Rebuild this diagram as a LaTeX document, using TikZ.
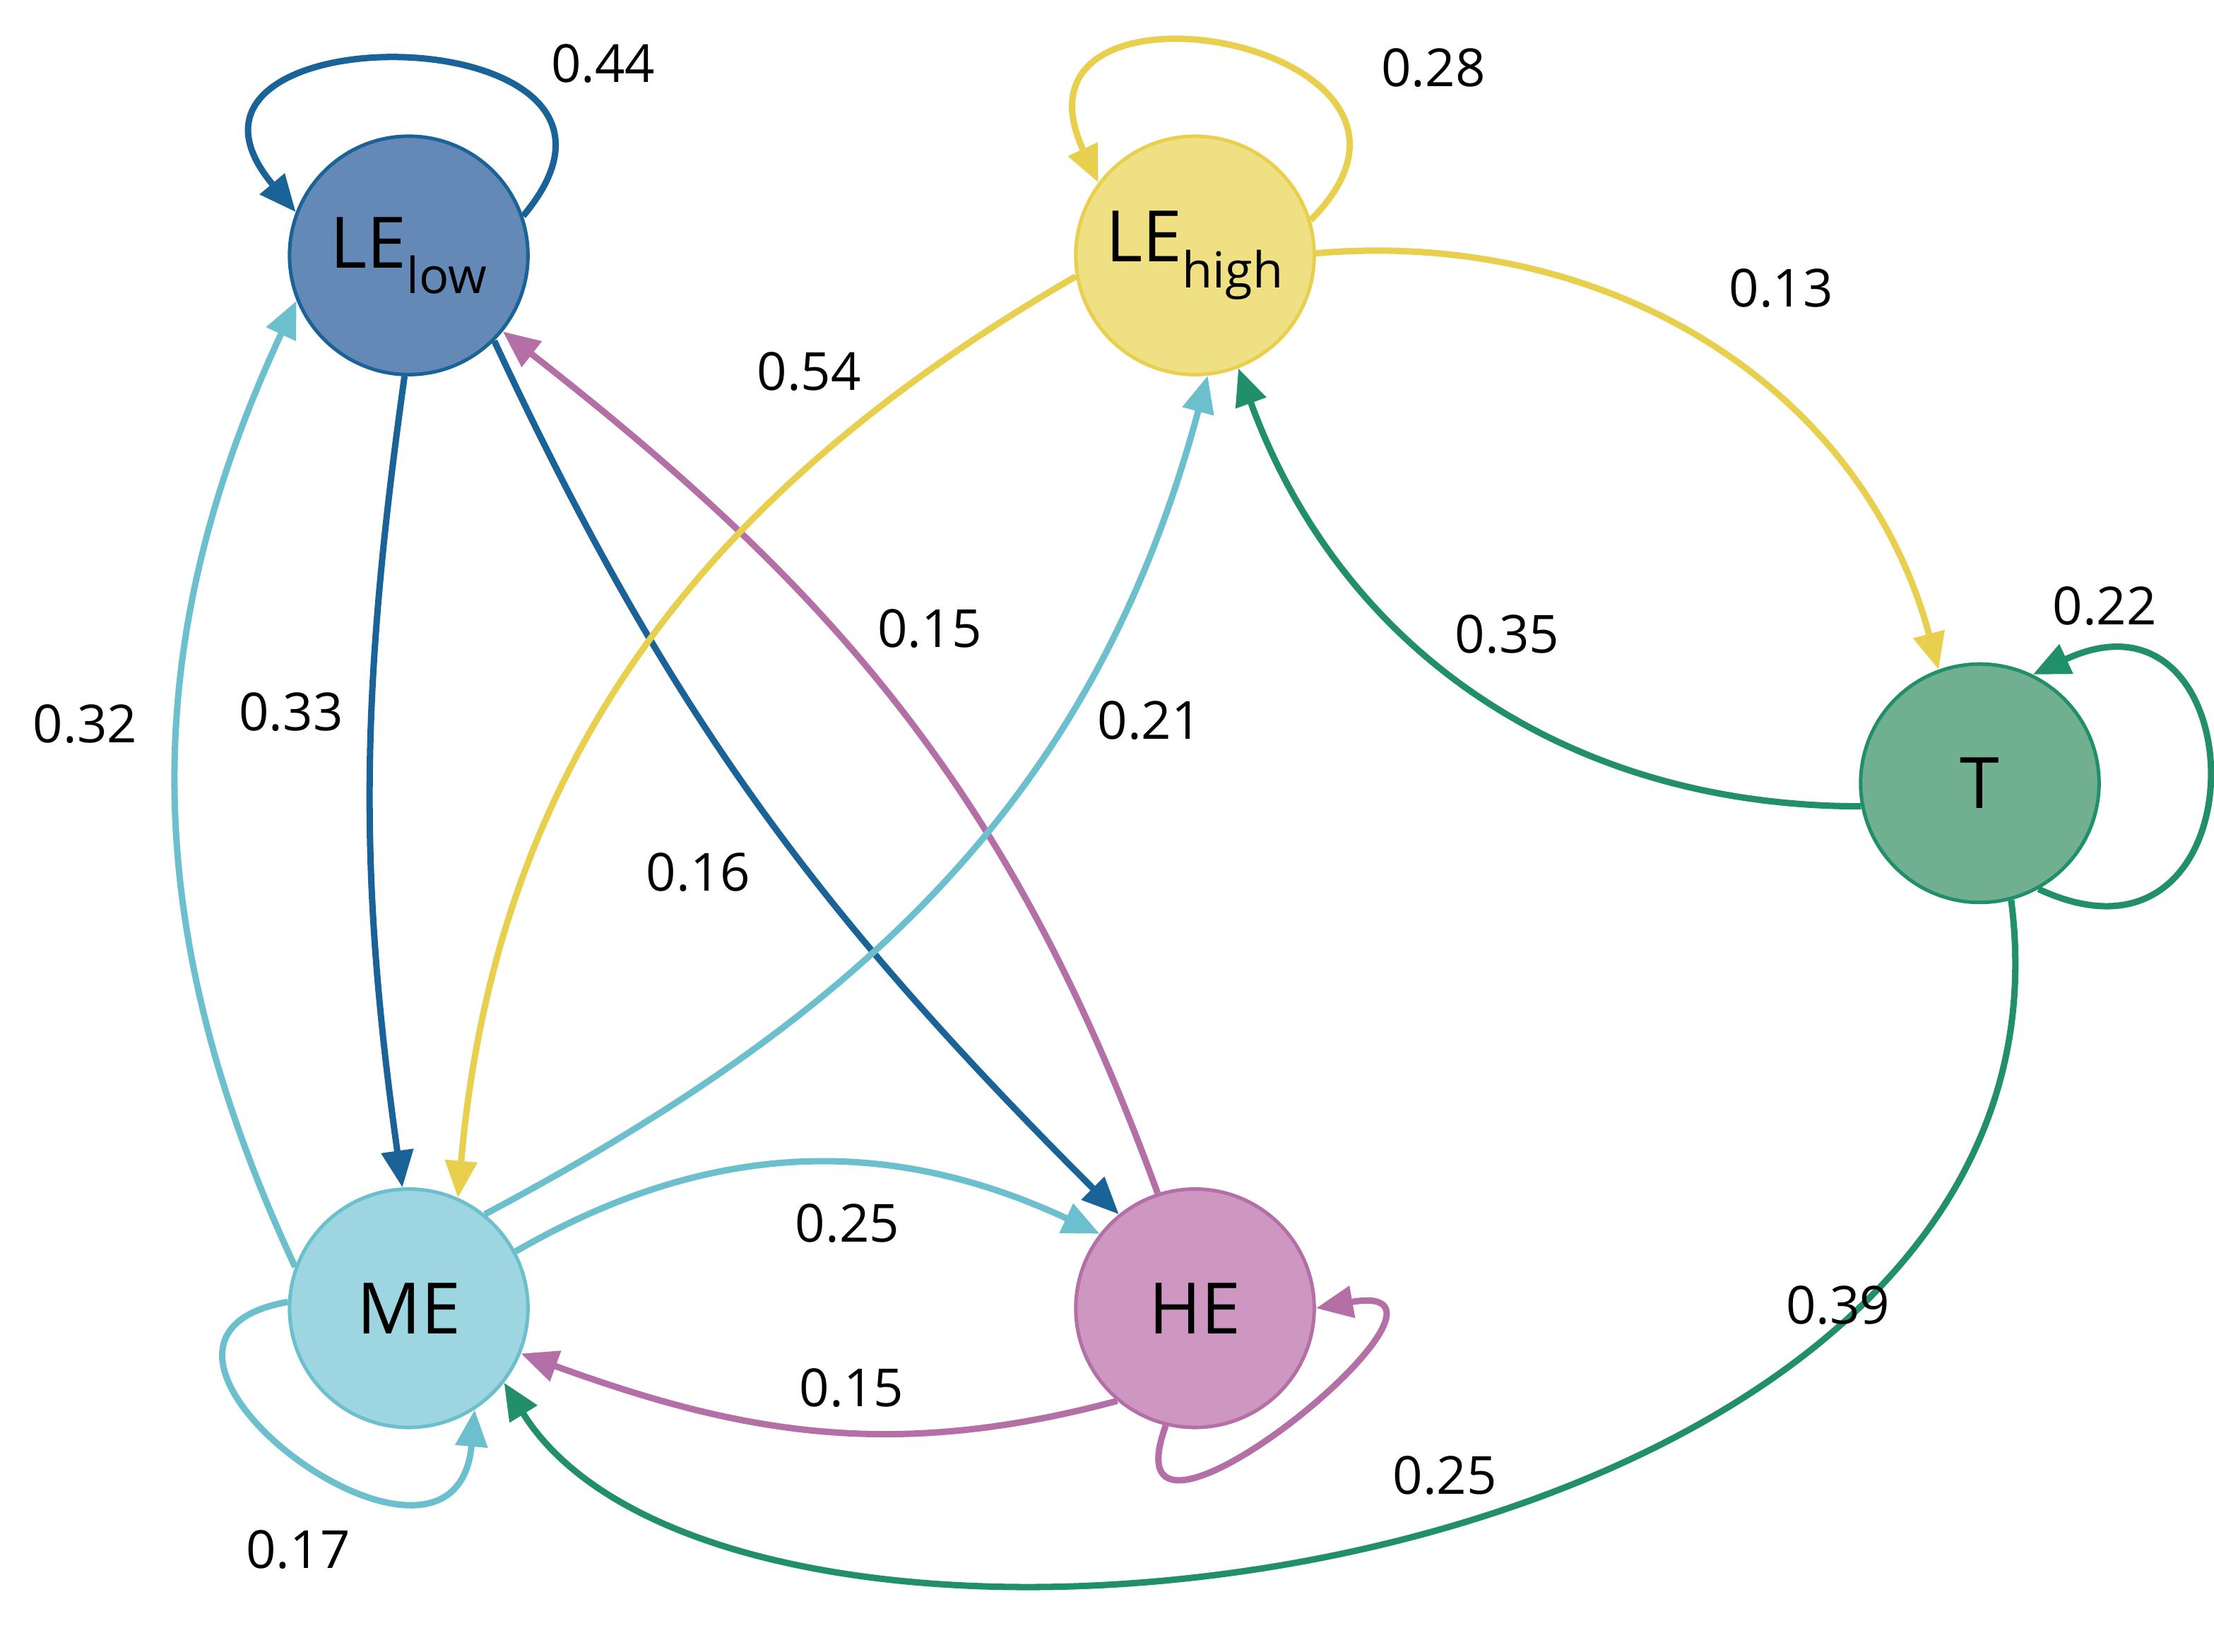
\documentclass[tikz,border=0pt]{standalone}
\usepackage{fontspec}
\setmainfont{Open Sans}
\usetikzlibrary{arrows.meta}
\definecolor{lelF}{HTML}{6589B6}\definecolor{lelD}{HTML}{1A6399}
\definecolor{lehF}{HTML}{F0E084}\definecolor{lehD}{HTML}{E8D04E}
\definecolor{tF}{HTML}{70B090}\definecolor{tD}{HTML}{21906A}
\definecolor{meF}{HTML}{9DD6E0}\definecolor{meD}{HTML}{6CBFCC}
\definecolor{heF}{HTML}{CD97C2}\definecolor{heD}{HTML}{B36FA6}
\tikzset{
 state/.style={circle,minimum size=168pt,inner sep=0pt,line width=2.5pt,font=\fontsize{50}{56}\selectfont},
 edge/.style={line width=4.5pt,-{Triangle[length=26pt,width=22pt]}},
 lab/.style={font=\fontsize{37}{40}\selectfont}
}
\begin{document}
\begin{tikzpicture}[x=1pt,y=1pt]
\useasboundingbox (0,0) rectangle (1560,-1164);
\node[state,fill=lelF,draw=lelD] (lel) at (288,-180) {LE\textsubscript{low}};
\node[state,fill=lehF,draw=lehD] (leh) at (842,-180) {LE\textsubscript{high}};
\node[state,fill=tF,draw=tD] (t) at (1395,-552) {T};
\node[state,fill=meF,draw=meD] (me) at (288,-922) {ME};
\node[state,fill=heF,draw=heD] (he) at (842,-922) {HE};
% loops
\draw[edge,lelD] (lel.19) to[out=50,in=130,looseness=3] (lel.159);
\draw[edge,lehD] (leh.17) to[out=45,in=115,looseness=3] (leh.143);
\draw[edge,tD] (t.-61) to[out=-25,in=25,looseness=3] (t.64);
\draw[edge,meD] (me.177) to[out=190,in=-95,looseness=2.6] (me.-57);
\draw[edge,heD] (he.-104) to[out=-110,in=10,looseness=2.6] (he.0);
% edges
\draw[edge,lelD] (lel.-92) to[out=-98,in=98] (me.93);
\draw[edge,lelD] (lel.-45) to[out=-65,in=135] (he.129);
\draw[edge,heD] (he.108) to[out=110,in=-38] (lel.-39);
\draw[edge,meD] (me.160) to[out=115,in=-115] (lel.-158);
\draw[edge,meD] (me.51) to[out=28,in=-105] (leh.-84);
\draw[edge,lehD] (leh.-170) to[out=-150,in=85] (me.66);
\draw[edge,lehD] (leh.1) to[out=5,in=105] (t.110);
\draw[edge,tD] (t.-169) to[out=180,in=-70] (leh.-69);
\draw[edge,tD] (t.-75) .. controls (1480,-1120) and (520,-1240) .. (me.-38);
\draw[edge,meD] (me.28) to[out=30,in=155] (he.142);
\draw[edge,heD] (he.-130) to[out=-165,in=-20] (me.-22);
% labels
\node[lab] (l1) at (425,-45) {0.44};
\node[lab] (l2) at (1010,-48) {0.28};
\node[lab] (l3) at (1483,-427) {0.22};
\node[lab] (l4) at (210,-1092) {0.17};
\node[lab] (l5) at (1018,-1040) {0.25};
\node[lab] (l6) at (205,-502) {0.33};
\node[lab] (l7) at (492,-615) {0.16};
\node[lab] (l8) at (655,-443) {0.15};
\node[lab] (l9) at (60,-510) {0.32};
\node[lab] (l10) at (810,-508) {0.21};
\node[lab] (l11) at (570,-262) {0.54};
\node[lab] (l12) at (1255,-203) {0.13};
\node[lab] (l13) at (1062,-447) {0.35};
\node[lab] (l14) at (1295,-920) {0.39};
\node[lab] (l15) at (597,-862) {0.25};
\node[lab] (l16) at (600,-978) {0.15};
\end{tikzpicture}
\end{document}
